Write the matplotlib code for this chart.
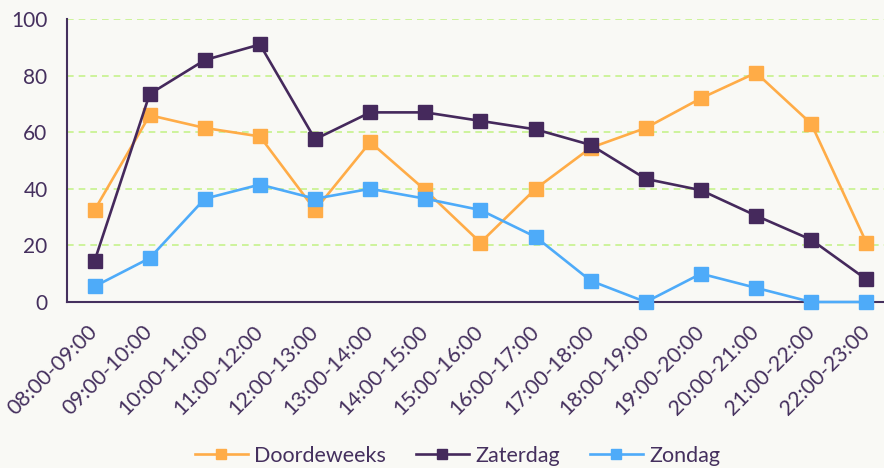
import matplotlib.pyplot as plt

# Hour slots and average occupancy per day type
slots = ["08:00-09:00", "09:00-10:00", "10:00-11:00", "11:00-12:00", "12:00-13:00",
         "13:00-14:00", "14:00-15:00", "15:00-16:00", "16:00-17:00", "17:00-18:00",
         "18:00-19:00", "19:00-20:00", "20:00-21:00", "21:00-22:00", "22:00-23:00"]
doordeweeks = [32.5, 66, 61.5, 58.5, 32.5, 56.5, 39.5, 21, 40, 54.5, 61.5, 72, 81, 63, 21]
zaterdag = [14.5, 73.5, 85.5, 91, 57.5, 67, 67, 64, 61, 55.5, 43.5, 39.5, 30.5, 22, 8]
zondag = [5.5, 15.5, 36.5, 41.5, 36.5, 40, 36.5, 32.5, 23, 7.5, 0, 10, 5, 0, 0]

text_color = "#45305e"
bg = "#f9f9f5"
plt.rcParams['font.family'] = ['Lato', 'DejaVu Sans']

fig = plt.figure(figsize=(8.84, 4.68), dpi=100, facecolor=bg)
ax = fig.add_axes([67 / 884, 166 / 468, 1 - 67 / 884, 283 / 468])
ax.set_facecolor(bg)

series = [("Doordeweeks", doordeweeks, "#ffac47"),
          ("Zaterdag", zaterdag, "#45295c"),
          ("Zondag", zondag, "#4eabf9")]
x = list(range(len(slots)))
for name, vals, col in series:
    ax.plot(x, vals, color=col, lw=1.9, marker='s', ms=10.5, label=name,
            clip_on=False, zorder=3)

ax.set_xlim(-0.5, 14.32)
ax.set_ylim(0, 100)
ax.set_yticks([0, 20, 40, 60, 80, 100])
ax.set_xticks(x)
ax.set_xticklabels(slots, rotation=45, ha='right', va='center', rotation_mode='anchor')
ax.tick_params(axis='x', length=0, pad=19, labelsize=15.3, colors=text_color)
ax.tick_params(axis='y', length=0, pad=14, labelsize=15, colors=text_color)

ax.grid(axis='y', color="#c6f28c", linestyle=(0, (4, 3)), lw=1.2)
ax.set_axisbelow(True)
for side in ['top', 'right']:
    ax.spines[side].set_visible(False)
for side in ['left', 'bottom']:
    ax.spines[side].set_color(text_color)
    ax.spines[side].set_linewidth(1.5)

leg = fig.legend(loc='center', bbox_to_anchor=(0.5176, 0.026), ncol=3, frameon=False,
                 fontsize=15.5, handlelength=2.45, columnspacing=1.4, handletextpad=0.3)
for t in leg.get_texts():
    t.set_color(text_color)
for h in leg.legend_handles:
    h.set_markersize(6.5)

fig.savefig("out.png", dpi=100, facecolor=bg)
